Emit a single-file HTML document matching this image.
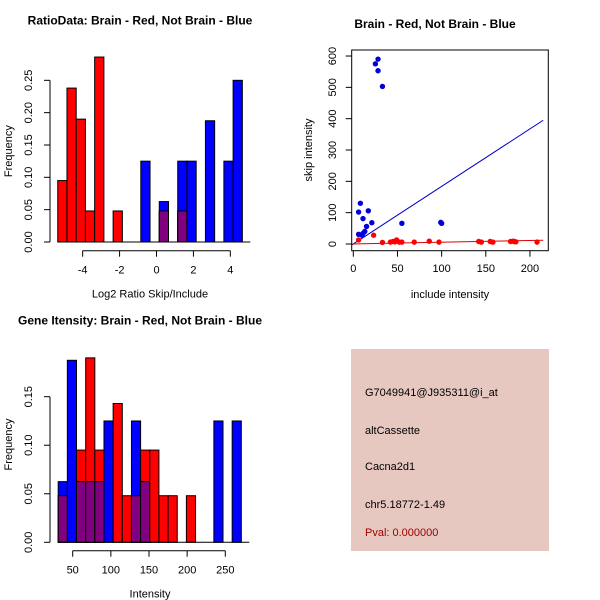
<!DOCTYPE html>
<html><head><meta charset="utf-8"><style>
body{margin:0;background:#fff}
svg{display:block;font-family:"Liberation Sans",sans-serif}
</style></head><body>
<svg id="c" width="600" height="600" viewBox="0 0 600 600">
<rect x="0" y="0" width="600" height="600" fill="#fff"/>
</svg>
<script>
// ---- Panel 1 data: ratio histogram ----
const ratioBinStart = -5.35, ratioBinWidth = 0.5;
const ratioRed = [0.095,0.238,0.190,0.048,0.286,0,0.048,0,0,0,0,0.048,0,0.048,0,0,0,0,0,0];
const ratioBlue = [0,0,0,0,0,0,0,0,0,0.125,0,0.0625,0,0.125,0.125,0,0.1875,0,0.125,0.25];
const ratioXTicks = [-4,-2,0,2,4];
const ratioYTicks = [0,0.05,0.10,0.15,0.20,0.25];
// ---- Panel 2 data: scatter ----
const blueX = [28,25,28,33,8,6,17,11,21,15,13,11,6,55,99,100,10];
const blueY = [590,575,553,503,130,102,106,81,68,56,40,34,31,66,69,66,28];
const redX = [6,23,33,42,45,47,49,52,55,69,86,97,142,145,155,158,178,181,182,184,208];
const redY = [13,28,5,6,8,7,13,6,6,6,9,6,8,6,8,6,8,9,8,7,6];
const blueFit = [[-5,-9],[215,395]];
const redFit = [[-5,0],[215,12]];
const scatXTicks = [0,50,100,150,200];
const scatYTicks = [0,100,200,300,400,500,600];
// ---- Panel 3 data: intensity histogram ----
const intBinStart = 31, intBinWidth = 12;
const intRed = [0.048,0,0.095,0.19,0.095,0,0.143,0.048,0.048,0.095,0.095,0.048,0.048,0,0.048,0,0,0,0,0];
const intBlue = [0.0625,0.1875,0.0625,0.0625,0.0625,0.125,0,0,0.125,0.0625,0,0,0,0,0,0,0,0.125,0,0.125];
const intXTicks = [50,100,150,200,250];
const intYTicks = [0,0.05,0.10,0.15];

const svg = document.getElementById('c');
const NS = 'http://www.w3.org/2000/svg';
function mk(tag, attrs, parent){const e=document.createElementNS(NS,tag);for(const k in attrs)e.setAttribute(k,attrs[k]);(parent||svg).appendChild(e);return e;}
function txt(s, attrs, parent){const e=mk('text',attrs,parent);e.textContent=s;return e;}

function histPanel(g, xs, ys, start, w, red, blue, xt, yt, yAxTop, xAxY, title, xlab, names){
  const base = ys(0);
  for(let i=0;i<red.length;i++){
    const x0=xs(start+i*w), x1=xs(start+(i+1)*w);
    const r=red[i], b=blue[i], m=Math.min(r,b);
    if(r>0){const e=mk('rect',{x:x0,y:ys(r),width:x1-x0,height:base-ys(r),fill:'#ff0000',stroke:'#000','stroke-width':1},g);
      
      }
    if(b>0){const e=mk('rect',{x:x0,y:ys(b),width:x1-x0,height:base-ys(b),fill:'#0000ff',stroke:'#000','stroke-width':1},g);
      
      }
    if(m>0){const e=mk('rect',{x:x0,y:ys(m),width:x1-x0,height:base-ys(m),fill:'#800080',stroke:'#000','stroke-width':1},g);
      
      }
  }
  mk('line',{x1:xs(start),x2:xs(start+red.length*w)+8,y1:base,y2:base,stroke:'#000'},g);
  const ax=50;
  mk('line',{x1:ax,x2:ax,y1:ys(yt[0]),y2:ys(yt[yt.length-1]),stroke:'#000'},g);
  yt.forEach(v=>{mk('line',{x1:ax-6,x2:ax,y1:ys(v),y2:ys(v),stroke:'#000'},g);
    const t=txt(v.toFixed(2),{x:0,y:0,transform:`translate(${ax-18},${ys(v)}) rotate(-90)`,'text-anchor':'middle','font-size':11},g);
    
    });
  mk('line',{x1:xs(xt[0]),x2:xs(xt[xt.length-1]),y1:xAxY,y2:xAxY,stroke:'#000'},g);
  xt.forEach(v=>{mk('line',{x1:xs(v),x2:xs(v),y1:xAxY,y2:xAxY+6,stroke:'#000'},g);
    const t=txt(String(v),{x:xs(v),y:xAxY+23,'text-anchor':'middle','font-size':11},g);
    
    });
  const tl=txt(title,{x:140,y:xAxY-226,'text-anchor':'middle','font-size':12,'font-weight':'bold'},g);
  
  
  const xl=txt(xlab,{x:150,y:xAxY+47,'text-anchor':'middle','font-size':11},g);
  
  
  const yl=txt('Frequency',{x:0,y:0,transform:`translate(12,${(ys(0)+ys(yt[yt.length-1]))/2+ (names==='ratio'?-10:-25)}) rotate(-90)`,'text-anchor':'middle','font-size':11},g);
  
  
}

const g1=mk('g',{});
histPanel(g1, v=>156.5+v*18.46, v=>242-v*646.7, ratioBinStart, ratioBinWidth, ratioRed, ratioBlue,
  ratioXTicks, ratioYTicks, 0, 250.7, 'RatioData: Brain - Red, Not Brain - Blue','Log2 Ratio Skip/Include','ratio');

const g3=mk('g',{});
histPanel(g3, v=>72.7+(v-50)*0.763, v=>542.3-v*970.7, intBinStart, intBinWidth, intRed, intBlue,
  intXTicks, intYTicks, 0, 550.7, 'Gene Itensity: Brain - Red, Not Brain - Blue','Intensity','intensity');

const g2=mk('g',{});
const sx=v=>353.3+v*0.8833, sy=v=>244-v*0.3133;
mk('rect',{x:351.7,y:50,width:196.6,height:200.7,fill:'none',stroke:'#000'},g2);
const cp=mk('clipPath',{id:'sc'},g2);mk('rect',{x:351.7,y:50,width:196.6,height:200.7},cp);
const lb=mk('line',{x1:sx(blueFit[0][0]),y1:sy(blueFit[0][1]),x2:sx(blueFit[1][0]),y2:sy(blueFit[1][1]),stroke:'#0000cc','clip-path':'url(#sc)'},g2);


const lr=mk('line',{x1:sx(redFit[0][0]),y1:sy(redFit[0][1]),x2:sx(redFit[1][0]),y2:sy(redFit[1][1]),stroke:'#dd0000','clip-path':'url(#sc)'},g2);


redX.forEach((x,i)=>{const c=mk('circle',{cx:sx(x),cy:sy(redY[i]),r:2.7,fill:'#ff0000'},g2);
  
  });
blueX.forEach((x,i)=>{const c=mk('circle',{cx:sx(x),cy:sy(blueY[i]),r:2.7,fill:'#0000dd'},g2);
  
  });
scatXTicks.forEach(v=>{mk('line',{x1:sx(v),x2:sx(v),y1:250.7,y2:256.7,stroke:'#000'},g2);
  const t=txt(String(v),{x:sx(v),y:272,'text-anchor':'middle','font-size':11},g2);
  
  });
scatYTicks.forEach(v=>{mk('line',{x1:345.7,x2:351.7,y1:sy(v),y2:sy(v),stroke:'#000'},g2);
  const t=txt(String(v),{x:0,y:0,transform:`translate(336,${sy(v)}) rotate(-90)`,'text-anchor':'middle','font-size':11},g2);
  
  });
const t2=txt('Brain - Red, Not Brain - Blue',{x:435,y:28,'text-anchor':'middle','font-size':12,'font-weight':'bold'},g2);


const x2=txt('include intensity',{x:450,y:298,'text-anchor':'middle','font-size':11},g2);


const y2=txt('skip intensity',{x:0,y:0,transform:'translate(312,150) rotate(-90)','text-anchor':'middle','font-size':11},g2);



const g4=mk('g',{});
mk('rect',{x:351,y:349,width:198,height:202,fill:'#e6c8c1'},g4);
const lines=[['G7049941@J935311@i_at',396,'#000','probe-id'],['altCassette',434,'#000','event-type'],['Cacna2d1',470,'#000','gene-name'],['chr5.18772-1.49',508,'#000','location'],['Pval: 0.000000',536,'#a00000','p-value']];
lines.forEach(l=>{const t=txt(l[0],{x:365,y:l[1],'font-size':11,fill:l[2]},g4);
  
  });
</script>
</body></html>
